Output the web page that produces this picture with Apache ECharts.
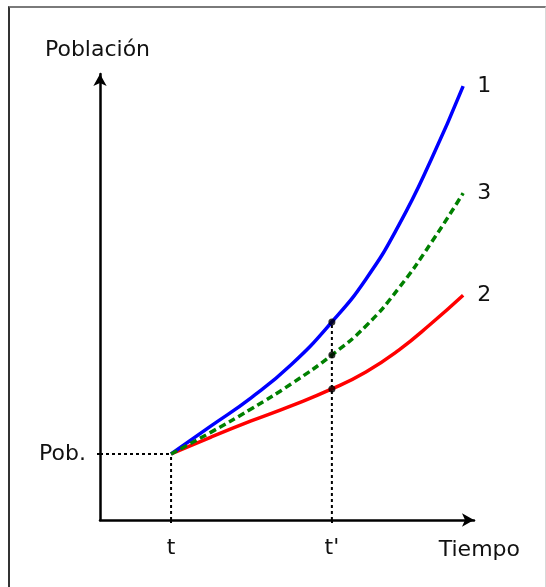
<!DOCTYPE html>
<html>
<head>
<meta charset="utf-8">
<script src="https://cdn.jsdelivr.net/npm/echarts@6/dist/echarts.min.js"></script>
<style>
html, body { margin: 0; padding: 0; background: #fff; }
#chart { position: absolute; left: 0; top: 0; width: 546px; height: 587px; }
#frame {
    position: absolute; left: 8px; top: 6px; width: 535px; height: 590px;
    border-top: 2px solid #7a7a7a; border-left: 2px solid #333;
    border-right: 1px solid #d8d8d8; pointer-events: none;
}
</style>
</head>
<body>
<div id="chart"></div>
<div id="frame"></div>
<script>
// tiempo (unidades arbitrarias 0-100) y población (0-100)
var timeX = [19.0, 29.7, 40.4, 51.1, 62.0, 71.1, 79.9, 88.5, 97.1];
var curve1 = [14.8, 21.1, 27.4, 34.8, 44.4, 54.0, 66.1, 80.7, 97.3];
var curve3 = [14.8, 19.7, 24.9, 30.5, 37.0, 43.5, 52.0, 62.1, 73.3];
var curve2 = [14.8, 18.6, 22.2, 25.6, 29.4, 33.2, 38.1, 44.0, 50.4];

var tX = timeX[0];      // t
var tPrimeX = timeX[4]; // t'
var pobY = curve1[0];   // Pob.

var font = 'DejaVu Sans, Verdana, sans-serif';
var textColor = '#111';

function pairs(ys) {
    return timeX.map(function (x, i) { return [x, ys[i]]; });
}

function curve(name, ys, color, dash) {
    return {
        name: name,
        type: 'line',
        smooth: 0.5,
        symbol: 'none',
        silent: true,
        data: pairs(ys),
        lineStyle: { color: color, width: 3.5, type: dash || 'solid' },
        endLabel: {
            show: true,
            formatter: '{a}',
            distance: 14,
            color: textColor,
            fontFamily: font,
            fontSize: 22
        }
    };
}

function guide(data) {
    return {
        type: 'line',
        symbol: 'none',
        silent: true,
        data: data,
        lineStyle: { color: '#000', width: 2, type: [3, 3] },
        z: 1
    };
}

var myChart = echarts.init(document.getElementById('chart'));
myChart.setOption({
    animation: false,
    grid: { left: 100, right: 72, top: 74, bottom: 67 },
    xAxis: {
        type: 'value',
        min: 0,
        max: 100,
        name: 'Tiempo',
        nameLocation: 'end',
        nameGap: 46,
        nameTextStyle: {
            color: textColor, fontFamily: font, fontSize: 22,
            align: 'right', verticalAlign: 'top', padding: [19, 0, 0, 0]
        },
        splitLine: { show: false },
        axisLine: {
            show: true,
            symbol: ['none', 'arrow'],
            symbolSize: [10, 12],
            lineStyle: { color: '#000', width: 2.5 }
        },
        axisTick: { show: true, customValues: [tX, tPrimeX], length: 3, lineStyle: { color: '#000', width: 2 } },
        axisLabel: {
            customValues: [tX, tPrimeX],
            formatter: function (v) { return v === tX ? 't' : "t'"; },
            margin: 17,
            color: textColor, fontFamily: font, fontSize: 22
        }
    },
    yAxis: {
        type: 'value',
        min: 0,
        max: 100,
        name: 'Población',
        nameLocation: 'end',
        nameGap: 13,
        nameTextStyle: {
            color: textColor, fontFamily: font, fontSize: 22,
            padding: [0, 5, 0, 0]
        },
        splitLine: { show: false },
        axisLine: {
            show: true,
            symbol: ['none', 'arrow'],
            symbolSize: [10, 12],
            lineStyle: { color: '#000', width: 2.5 }
        },
        axisTick: { show: true, customValues: [pobY], length: 3, lineStyle: { color: '#000', width: 2 } },
        axisLabel: {
            customValues: [pobY],
            formatter: function () { return 'Pob.'; },
            margin: 14,
            color: textColor, fontFamily: font, fontSize: 22
        }
    },
    series: [
        guide([[0, pobY], [tX, pobY]]),
        guide([[tX, 0], [tX, pobY]]),
        guide([[tPrimeX, 0], [tPrimeX, curve1[4]]]),
        curve('2', curve2, '#ff0000'),
        curve('1', curve1, '#0000ff'),
        curve('3', curve3, '#008000', [7, 4]),
        {
            type: 'scatter',
            symbol: 'circle',
            symbolSize: 7,
            silent: true,
            itemStyle: { color: '#000' },
            data: [[tPrimeX, curve1[4]], [tPrimeX, curve3[4]], [tPrimeX, curve2[4]]],
            z: 5
        }
    ]
});
</script>
</body>
</html>
